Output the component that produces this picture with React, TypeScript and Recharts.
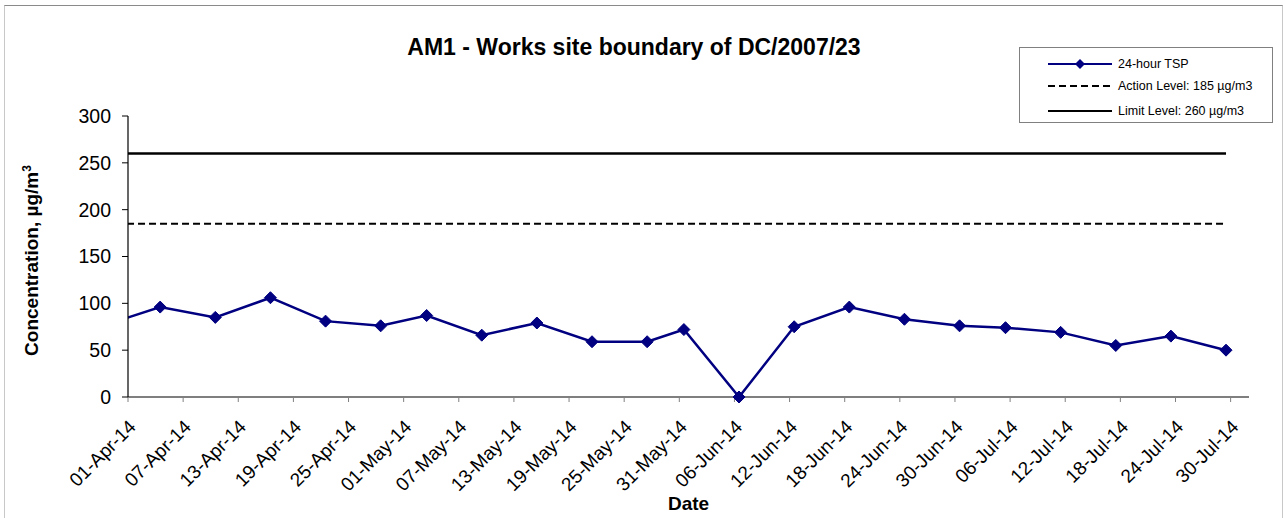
import React from 'react';
import { LineChart, Line, XAxis, YAxis, Label } from 'recharts';

// sampling days (the first one sits before the axis start and is clipped)
const sampleDates = [
  '2014-03-29', '2014-04-04', '2014-04-10', '2014-04-16', '2014-04-22', '2014-04-28',
  '2014-05-03', '2014-05-09', '2014-05-15', '2014-05-21', '2014-05-27', '2014-05-31',
  '2014-06-06', '2014-06-12', '2014-06-18', '2014-06-24', '2014-06-30', '2014-07-05',
  '2014-07-11', '2014-07-17', '2014-07-23', '2014-07-29',
];
const tspValues = [77, 96, 85, 106, 81, 76, 87, 66, 79, 59, 59, 72, 0, 75, 96, 83, 76, 74, 69, 55, 65, 50];
const actionLevel = 185;
const limitLevel = 260;

const tickDates = [
  '2014-04-01', '2014-04-07', '2014-04-13', '2014-04-19', '2014-04-25', '2014-05-01',
  '2014-05-07', '2014-05-13', '2014-05-19', '2014-05-25', '2014-05-31', '2014-06-06',
  '2014-06-12', '2014-06-18', '2014-06-24', '2014-06-30', '2014-07-06', '2014-07-12',
  '2014-07-18', '2014-07-24', '2014-07-30',
];
const axisStart = '2014-04-01';
const axisEnd = '2014-08-01';
const yTicks = [0, 50, 100, 150, 200, 250, 300];

const MS_DAY = 86400000;
const monthNames = ['Jan', 'Feb', 'Mar', 'Apr', 'May', 'Jun', 'Jul', 'Aug', 'Sep', 'Oct', 'Nov', 'Dec'];
const base = Date.parse(axisStart);
const toDay = (s: string) => (Date.parse(s) - base) / MS_DAY;

const fmtDate = (d: number) => {
  const dt = new Date(base + Math.round(d) * MS_DAY);
  const dd = String(dt.getUTCDate()).padStart(2, '0');
  const yy = String(dt.getUTCFullYear()).slice(2);
  return `${dd}-${monthNames[dt.getUTCMonth()]}-${yy}`;
};

// Excel puts date points in the middle of their day
const data = sampleDates.map((s, i) => ({
  day: toDay(s) + 0.5,
  tsp: tspValues[i],
  action: actionLevel,
  limit: limitLevel,
}));

const FONT = 'Arial, "Liberation Sans", sans-serif';

const Diamond = (props: any) => {
  const { cx, cy, index } = props;
  if (cx == null || cy == null) return null;
  const r = 6;
  return (
    <path
      key={`d-${index}`}
      d={`M${cx},${cy - r}L${cx + r},${cy}L${cx},${cy + r}L${cx - r},${cy}Z`}
      fill="#000080"
      stroke="#000080"
    />
  );
};

const DateTick = (props: any) => {
  const { x, y, payload } = props;
  const px = x + 9;
  const py = y + 24;
  return (
    <text
      x={px}
      y={py}
      textAnchor="end"
      fontSize={19}
      fontFamily={FONT}
      fill="#000"
      transform={`rotate(-45 ${px} ${py})`}
    >
      {fmtDate(payload.value)}
    </text>
  );
};

const YLabel = (props: any) => {
  const { viewBox } = props;
  const x = viewBox.x + 38;
  const y = viewBox.y + viewBox.height / 2 + 4;
  return (
    <text
      x={x}
      y={y}
      textAnchor="middle"
      fontSize={19}
      fontWeight="bold"
      fontFamily={FONT}
      fill="#000"
      transform={`rotate(-90 ${x} ${y})`}
    >
      Concentration, µg/m<tspan dy={-7} fontSize={12}>3</tspan>
    </text>
  );
};

const XLabel = (props: any) => {
  const { viewBox } = props;
  return (
    <text
      x={viewBox.x + viewBox.width / 2}
      y={viewBox.y + 113}
      textAnchor="middle"
      fontSize={19}
      fontWeight="bold"
      fontFamily={FONT}
      fill="#000"
    >
      Date
    </text>
  );
};

const legendItems = [
  { label: '24-hour TSP', color: '#000080', dash: undefined, marker: true },
  { label: 'Action Level: 185 µg/m3', color: '#000', dash: '7 4', marker: false },
  { label: 'Limit Level: 260 µg/m3', color: '#000', dash: undefined, marker: false },
];

const App = () => {
  return (
    <div style={{ position: 'absolute', left: 0, top: 0, width: 1286, height: 518, background: '#fff', overflow: 'hidden' }}>
      {/* outer frame */}
      <div style={{ position: 'absolute', left: 4, top: 5, width: 1277, height: 530, borderTop: '1px solid #8a8a8a', borderLeft: '1px solid #c8c8c8', borderRight: '1px solid #c8c8c8' }} />

      <div
        style={{
          position: 'absolute', left: 0, top: 36, width: 1268, textAlign: 'center',
          fontFamily: FONT, fontWeight: 'bold', fontSize: 23, lineHeight: '23px', color: '#000',
        }}
      >
        AM1 - Works site boundary of DC/2007/23
      </div>

      <div style={{ position: 'absolute', left: 0, top: 0 }}>
        <LineChart width={1286} height={518} data={data} margin={{ top: 116, right: 37, left: 0, bottom: 0 }}>
          <XAxis
            dataKey="day"
            type="number"
            domain={[toDay(axisStart), toDay(axisEnd)]}
            allowDataOverflow
            ticks={tickDates.map(toDay)}
            tick={<DateTick />}
            tickSize={5}
            interval={0}
            height={121}
            axisLine={{ stroke: '#000', strokeWidth: 1.2 }}
            tickLine={{ stroke: '#808080' }}
          >
            <Label content={<XLabel />} />
          </XAxis>
          <YAxis
            domain={[0, 300]}
            ticks={yTicks}
            width={128}
            tickSize={6}
            tickMargin={11}
            interval={0}
            tick={{ fontSize: 19.5, fill: '#000', fontFamily: FONT }}
            axisLine={{ stroke: '#000', strokeWidth: 1.2 }}
            tickLine={{ stroke: '#000' }}
          >
            <Label content={<YLabel />} />
          </YAxis>
          <Line
            dataKey="limit"
            type="linear"
            stroke="#000"
            strokeWidth={2.5}
            dot={false}
            isAnimationActive={false}
          />
          <Line
            dataKey="action"
            type="linear"
            stroke="#000"
            strokeWidth={2}
            strokeDasharray="7 4"
            dot={false}
            isAnimationActive={false}
          />
          <Line
            dataKey="tsp"
            type="linear"
            stroke="#000080"
            strokeWidth={2.5}
            dot={<Diamond />}
            isAnimationActive={false}
          />
        </LineChart>
      </div>

      {/* legend */}
      <div style={{ position: 'absolute', left: 1019, top: 47, width: 252, height: 74, border: '1px solid #808080', background: '#fff' }}>
        {legendItems.map((it, i) => {
          const cy = [16, 38, 63][i];
          return (
            <div key={it.label} style={{ position: 'absolute', left: 0, top: cy - 10, height: 20, width: 252 }}>
              <svg width={70} height={20} style={{ position: 'absolute', left: 28, top: 0 }}>
                <line x1={0} y1={10} x2={64} y2={10} stroke={it.color} strokeWidth={2} strokeDasharray={it.dash} />
                {it.marker && <path d="M32,5L37,10L32,15L27,10Z" fill={it.color} />}
              </svg>
              <div style={{ position: 'absolute', left: 98, top: 0, lineHeight: '20px', fontSize: 12.5, fontFamily: FONT, color: '#000', whiteSpace: 'nowrap' }}>
                {it.label}
              </div>
            </div>
          );
        })}
      </div>
    </div>
  );
};

export default App;
